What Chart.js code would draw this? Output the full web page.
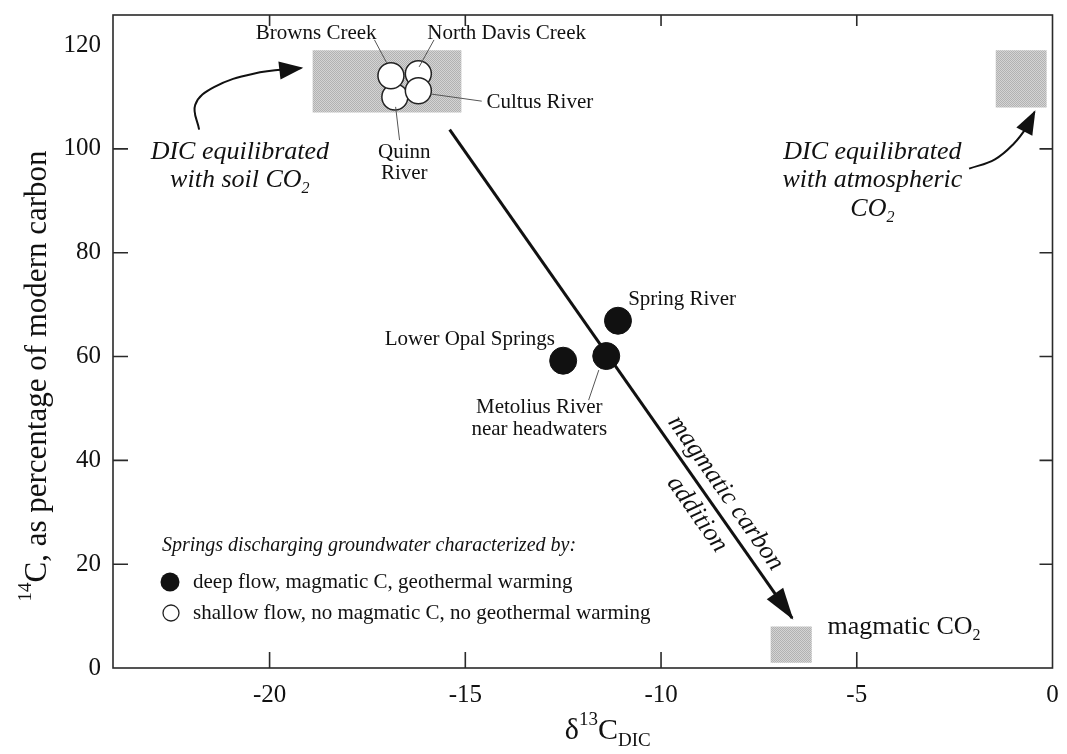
<!DOCTYPE html>
<html><head><meta charset="utf-8">
<script src="https://cdn.jsdelivr.net/npm/chart.js@4.4.0/dist/chart.umd.min.js"></script>
<style>html,body{margin:0;padding:0;background:#fff;}canvas{display:block;}</style>
</head><body>
<canvas id="c" width="1067" height="754"></canvas>
<script>
// ---------------- data ----------------
const deepNames = ['Spring River', 'Lower Opal Springs', 'Metolius River near headwaters'];
const deepX = [-11.1, -12.5, -11.4];
const deepY = [66.9, 59.2, 60.1];

const shallowNames = ['North Davis Creek', 'Quinn River', 'Browns Creek', 'Cultus River'];
const shallowX = [-16.2, -16.8, -16.9, -16.2];
const shallowY = [114.5, 110.0, 114.1, 111.2];

const soilBoxX = [-18.9, -15.1];  const soilBoxY = [107, 119];
const atmBoxX  = [-1.45, -0.15];  const atmBoxY  = [108, 119];
const magBoxX  = [-7.2, -6.15];   const magBoxY  = [1, 8];

const mixArrowX = [-15.4, -6.65]; const mixArrowY = [103.7, 9.6];
const soilArrowX = [-21.8, -21.9, -21.42, -20.41, -19.19];
const soilArrowY = [103.7, 108.5, 111.9, 114.5, 115.6];
const atmArrowX = [-2.13, -1.47, -0.99, -0.66, -0.46];
const atmArrowY = [96.2, 98.0, 101.0, 104.2, 107.1];

const xTickStep = 5, yTickStep = 20;
const X_MIN = -24, X_MAX = 0, Y_MIN = 0, Y_MAX = 125.8;

// ---------------- helpers ----------------
const SERIF = '"Liberation Serif", "Times New Roman", serif';
const pts = (xs, ys) => xs.map((x, i) => ({x, y: ys[i]}));
const box = (bx, by) => [
  {x: bx[0], y: by[0]}, {x: bx[1], y: by[0]}, {x: bx[1], y: by[1]}, {x: bx[0], y: by[1]}, {x: bx[0], y: by[0]}
];

function stipple() {
  const c = document.createElement('canvas'); c.width = 2; c.height = 2;
  const g = c.getContext('2d');
  g.fillStyle = '#d4d4d4'; g.fillRect(0, 0, 2, 2);
  g.fillStyle = '#b2b2b2'; g.fillRect(0, 0, 1, 1); g.fillRect(1, 1, 1, 1);
  return document.getElementById('c').getContext('2d').createPattern(c, 'repeat');
}
const BOXFILL = stipple();

function drawRich(ctx, segs, x, y, size, italic, align) {
  const font = s => (italic ? 'italic ' : '') + s + 'px ' + SERIF;
  let w = 0;
  const parts = segs.map(s => {
    const sz = (s.sub || s.sup) ? Math.round(size * 0.62) : size;
    ctx.font = font(sz);
    const m = ctx.measureText(s.t).width; w += m;
    return {s, sz, m};
  });
  let cx = align === 'center' ? x - w / 2 : align === 'right' ? x - w : x;
  ctx.textAlign = 'left'; ctx.textBaseline = 'middle';
  parts.forEach(p => {
    ctx.font = font(p.sz);
    const dy = p.s.sub ? size * 0.32 : p.s.sup ? -size * 0.38 : 0;
    ctx.fillText(p.s.t, cx, y + dy);
    cx += p.m;
  });
}

// text annotations (data coordinates of text centre / anchor)
const labels = [
  {segs: [{t: 'Browns Creek'}], x: -18.81, y: 122.3, size: 21, align: 'center'},
  {segs: [{t: 'North Davis Creek'}], x: -15.97, y: 122.3, size: 21, align: 'left'},
  {segs: [{t: 'Cultus River'}], x: -14.46, y: 108.9, size: 21, align: 'left'},
  {segs: [{t: 'Quinn'}], x: -16.56, y: 99.4, size: 21, align: 'center'},
  {segs: [{t: 'River'}], x: -16.56, y: 95.3, size: 21, align: 'center'},
  {segs: [{t: 'Spring River'}], x: -10.84, y: 70.9, size: 21, align: 'left'},
  {segs: [{t: 'Lower Opal Springs'}], x: -12.71, y: 63.2, size: 21, align: 'right'},
  {segs: [{t: 'Metolius River'}], x: -13.11, y: 50.1, size: 21, align: 'center'},
  {segs: [{t: 'near headwaters'}], x: -13.11, y: 45.9, size: 21, align: 'center'},
  {segs: [{t: 'DIC equilibrated'}], x: -20.76, y: 99.4, size: 26, align: 'center', italic: true},
  {segs: [{t: 'with soil CO'}, {t: '2', sub: true}], x: -20.76, y: 94.0, size: 26, align: 'center', italic: true},
  {segs: [{t: 'DIC equilibrated'}], x: -4.6, y: 99.4, size: 26, align: 'center', italic: true},
  {segs: [{t: 'with atmospheric'}], x: -4.6, y: 94.0, size: 26, align: 'center', italic: true},
  {segs: [{t: 'CO'}, {t: '2', sub: true}], x: -4.6, y: 88.3, size: 26, align: 'center', italic: true},
  {segs: [{t: 'magmatic CO'}, {t: '2', sub: true}], x: -5.75, y: 7.9, size: 26, align: 'left'}
];
const leaders = [
  [-17.32, 121.0, -17.01, 116.6],
  [-15.80, 121.0, -16.18, 115.8],
  [-15.90, 110.6, -14.58, 109.2],
  [-16.78, 108.1, -16.68, 101.7],
  [-11.59, 57.4, -11.85, 51.6]
];
const rotLabels = [
  {segs: [{t: 'magmatic carbon'}], x: -8.35, y: 33.7, size: 26},
  {segs: [{t: 'addition'}], x: -9.08, y: 29.6, size: 26}
];

const annotPlugin = {
  id: 'annot',
  afterDatasetsDraw(chart) {
    const ctx = chart.ctx, sx = chart.scales.x, sy = chart.scales.y;
    ctx.save();
    ctx.strokeStyle = '#555'; ctx.lineWidth = 1;
    leaders.forEach(l => {
      ctx.beginPath();
      ctx.moveTo(sx.getPixelForValue(l[0]), sy.getPixelForValue(l[1]));
      ctx.lineTo(sx.getPixelForValue(l[2]), sy.getPixelForValue(l[3]));
      ctx.stroke();
    });
    ctx.fillStyle = '#111';
    labels.forEach(a => drawRich(ctx, a.segs, sx.getPixelForValue(a.x), sy.getPixelForValue(a.y), a.size, !!a.italic, a.align));
    const m = chart.getDatasetMeta(3).data;
    const ang = Math.atan2(m[1].y - m[0].y, m[1].x - m[0].x);
    rotLabels.forEach(a => {
      ctx.save();
      ctx.translate(sx.getPixelForValue(a.x), sy.getPixelForValue(a.y));
      ctx.rotate(ang);
      drawRich(ctx, a.segs, 0, 0, a.size, true, 'center');
      ctx.restore();
    });
    // legend (inside plot area, lower left)
    const ca = chart.chartArea;
    drawRich(ctx, [{t: 'Springs discharging groundwater characterized by:'}], ca.left + 49, ca.bottom - 122, 20, true, 'left');
    ctx.beginPath(); ctx.arc(ca.left + 57, ca.bottom - 86, 9.5, 0, Math.PI * 2); ctx.fillStyle = '#111'; ctx.fill();
    ctx.beginPath(); ctx.arc(ca.left + 58, ca.bottom - 55, 8, 0, Math.PI * 2); ctx.fillStyle = '#fff'; ctx.fill();
    ctx.strokeStyle = '#222'; ctx.lineWidth = 1.3; ctx.stroke();
    ctx.fillStyle = '#111';
    drawRich(ctx, [{t: 'deep flow, magmatic C, geothermal warming'}], ca.left + 80, ca.bottom - 86, 21, false, 'left');
    drawRich(ctx, [{t: 'shallow flow, no magmatic C, no geothermal warming'}], ca.left + 80, ca.bottom - 55, 21, false, 'left');
    // axis titles
    drawRich(ctx, [{t: 'δ'}, {t: '13', sup: true}, {t: 'C'}, {t: 'DIC', sub: true}], (ca.left + ca.right) / 2 + 25, 731, 30, false, 'center');
    ctx.save();
    ctx.translate(38, 376); ctx.rotate(-Math.PI / 2);
    drawRich(ctx, [{t: '14', sup: true}, {t: 'C, as percentage of modern carbon'}], 0, 0, 31, false, 'center');
    ctx.restore();
    ctx.restore();
  }
};

const arrowPlugin = {
  id: 'arrowHeads',
  afterDatasetsDraw(chart) {
    const ctx = chart.ctx;
    chart.data.datasets.forEach((ds, i) => {
      if (!ds.arrowLen) return;
      const p = chart.getDatasetMeta(i).data;
      const tip = p[p.length - 1];
      let fx = tip.cp1x, fy = tip.cp1y;
      if (fx === undefined || (Math.abs(fx - tip.x) < 0.5 && Math.abs(fy - tip.y) < 0.5)) { fx = p[p.length - 2].x; fy = p[p.length - 2].y; }
      const a = Math.atan2(tip.y - fy, tip.x - fx);
      const L = ds.arrowLen, W = ds.arrowHalf;
      const bx = tip.x - L * Math.cos(a), by = tip.y - L * Math.sin(a);
      ctx.save();
      ctx.fillStyle = '#111';
      ctx.beginPath();
      ctx.moveTo(tip.x + 2 * Math.cos(a), tip.y + 2 * Math.sin(a));
      ctx.lineTo(bx + W * Math.sin(a), by - W * Math.cos(a));
      ctx.lineTo(bx - W * Math.sin(a), by + W * Math.cos(a));
      ctx.closePath(); ctx.fill();
      ctx.restore();
    });
  }
};

const framePlugin = {
  id: 'frame',
  afterDraw(chart) {
    const ctx = chart.ctx, ca = chart.chartArea, sx = chart.scales.x, sy = chart.scales.y;
    ctx.save();
    ctx.strokeStyle = '#2a2a2a'; ctx.lineWidth = 1.6;
    ctx.strokeRect(ca.left, ca.top, ca.right - ca.left, ca.bottom - ca.top);
    ctx.beginPath();
    sx.ticks.forEach(t => {
      const x = sx.getPixelForValue(t.value);
      if (x <= ca.left + 2 || x >= ca.right - 2) return;
      ctx.moveTo(x, ca.bottom); ctx.lineTo(x, ca.bottom - 16);
      ctx.moveTo(x, ca.top); ctx.lineTo(x, ca.top + 11);
    });
    sy.ticks.forEach((t, i) => {
      const y = sy.getPixelForValue(t.value);
      if (y >= ca.bottom - 2 || i === sy.ticks.length - 1) return;
      ctx.moveTo(ca.left, y); ctx.lineTo(ca.left + 15, y);
      ctx.moveTo(ca.right, y); ctx.lineTo(ca.right - 13, y);
    });
    ctx.stroke();
    ctx.restore();
  }
};

new Chart(document.getElementById('c'), {
  type: 'scatter',
  data: {
    datasets: [
      {label: 'deep', data: pts(deepX, deepY), names: deepNames, pointRadius: 13.5, pointHoverRadius: 13.5,
       backgroundColor: '#111', borderColor: '#111', borderWidth: 1, order: 1},
      {label: 'shallow', data: pts(shallowX, shallowY), names: shallowNames, pointRadius: 13, pointHoverRadius: 13,
       backgroundColor: '#fff', borderColor: '#222', borderWidth: 1.5, order: 2},
      {type: 'line', label: 'soilArrow', data: pts(soilArrowX, soilArrowY), borderColor: '#111', borderWidth: 2,
       pointRadius: 0, tension: 0.4, fill: false, arrowLen: 22, arrowHalf: 9, order: 4},
      {type: 'line', label: 'mixArrow', data: pts(mixArrowX, mixArrowY), borderColor: '#111', borderWidth: 3,
       pointRadius: 0, tension: 0, fill: false, arrowLen: 30, arrowHalf: 10, order: 3},
      {type: 'line', label: 'atmArrow', data: pts(atmArrowX, atmArrowY), borderColor: '#111', borderWidth: 2,
       pointRadius: 0, tension: 0.4, fill: false, arrowLen: 22, arrowHalf: 9, order: 4},
      {type: 'line', label: 'soilBox', data: box(soilBoxX, soilBoxY), borderWidth: 0, borderColor: 'rgba(0,0,0,0)',
       backgroundColor: BOXFILL, fill: 'shape', pointRadius: 0, tension: 0, order: 10},
      {type: 'line', label: 'atmBox', data: box(atmBoxX, atmBoxY), borderWidth: 0, borderColor: 'rgba(0,0,0,0)',
       backgroundColor: BOXFILL, fill: 'shape', pointRadius: 0, tension: 0, order: 10},
      {type: 'line', label: 'magBox', data: box(magBoxX, magBoxY), borderWidth: 0, borderColor: 'rgba(0,0,0,0)',
       backgroundColor: BOXFILL, fill: 'shape', pointRadius: 0, tension: 0, order: 10}
    ]
  },
  options: {
    responsive: false, animation: false, devicePixelRatio: 1, events: [],
    layout: {padding: {left: 0, right: 6, top: 15, bottom: 0}},
    plugins: {legend: {display: false}, tooltip: {enabled: false}},
    scales: {
      x: {type: 'linear', min: X_MIN, max: X_MAX,
          grid: {display: false, drawTicks: false}, border: {display: false},
          ticks: {stepSize: xTickStep, includeBounds: false, padding: 12, color: '#111',
                  font: {family: SERIF, size: 25}},
          afterFit: s => { s.height = 86; s.paddingLeft = 0; s.paddingRight = 0; }},
      y: {type: 'linear', min: Y_MIN, max: Y_MAX,
          grid: {display: false, drawTicks: false}, border: {display: false},
          ticks: {stepSize: yTickStep, includeBounds: false, padding: 12, color: '#111',
                  font: {family: SERIF, size: 25}},
          afterFit: s => { s.width = 113; s.paddingTop = 0; s.paddingBottom = 0; }}
    }
  },
  plugins: [arrowPlugin, annotPlugin, framePlugin]
});
</script>
</body></html>
